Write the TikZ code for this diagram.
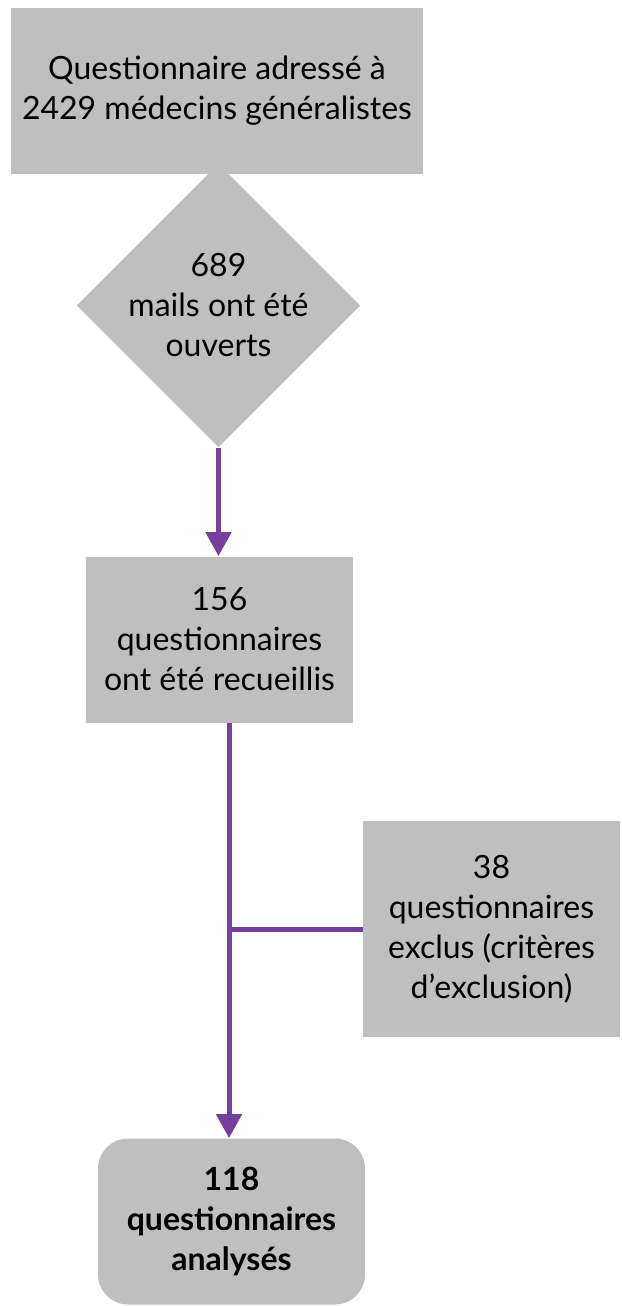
\documentclass[tikz,border=0pt]{standalone}
\usepackage{fontspec}
\setmainfont{Lato}
\usetikzlibrary{shapes.geometric,arrows.meta,positioning}
\definecolor{boxgray}{RGB}{191,191,191}
\definecolor{flowpurple}{RGB}{118,62,158}

\begin{document}
\begin{tikzpicture}
[x=0.5pt,y=-0.5pt,%
  every node/.style={fill=boxgray,align=center,inner sep=0pt,%
    font=\fontsize{16}{20}\selectfont},%
  stepbox/.style={rectangle,minimum width=133.5pt,minimum height=83pt},%
  flow/.style={flowpurple,line width=2.5pt},%
  tip/.style={-{Triangle[width=12.5pt,length=12pt]}}]
\useasboundingbox (0,0) rectangle (621,1306);
\node[rectangle,minimum width=206pt,minimum height=83pt] (sent) at (217,91)
  {Questionnaire adressé à\\2429 médecins généralistes};
\node[diamond,minimum width=133.5pt,minimum height=131.5pt] (opened) at (218.5,305.5)
  {689\\mails ont été\\ouverts};
\node[stepbox] (collected) at (219.5,639.5)
  {156\\questionnaires\\ont été recueillis};
\node[rectangle,minimum width=128.5pt,minimum height=108pt] (excluded) at (491.5,929)
  {38\\questionnaires\\exclus (critères\\d’exclusion)};
\node[stepbox,rounded corners=15pt,font=\fontsize{16}{20}\selectfont\bfseries] (analysed) at (231.5,1221.5)
  {118\\questionnaires\\analysés};
\coordinate (split) at (229,929);
% connectors
\draw[flow,tip] (opened.south) -- (collected.north -| opened.south);
\draw[flow,tip] (collected.south -| split) -- (analysed.north -| split);
\draw[flow] (split) -- (excluded.west);
\end{tikzpicture}
\end{document}
